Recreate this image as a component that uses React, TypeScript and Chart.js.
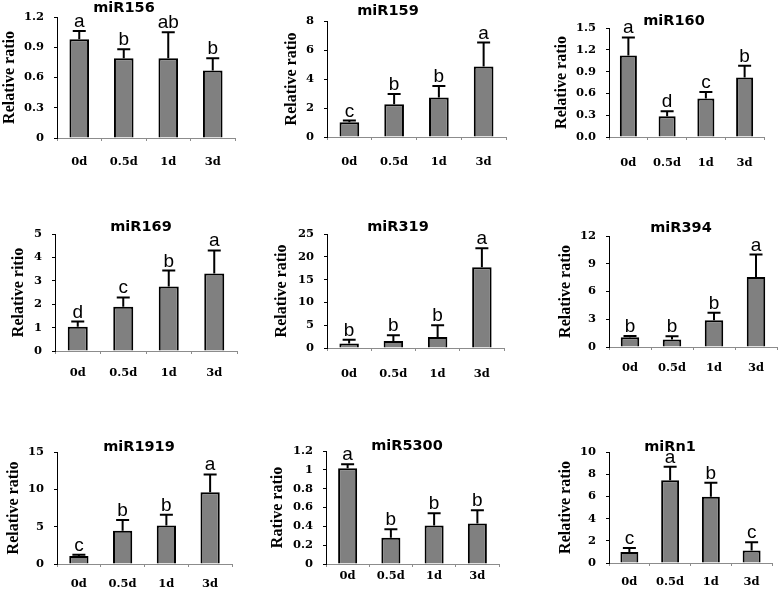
import React, { useEffect, useRef } from "react";
import { Chart, registerables } from "chart.js";

Chart.register(...registerables);

const categories = ["0d", "0.5d", "1d", "3d"];

const miR156Values = [0.98, 0.79, 0.79, 0.67];
const miR156Errors = [0.08, 0.09, 0.26, 0.12];
const miR156Letters = ["a", "b", "ab", "b"];
const miR156Ticks = ["0", "0.3", "0.6", "0.9", "1.2"];

const miR159Values = [1.02, 2.26, 2.72, 4.87];
const miR159Errors = [0.11, 0.71, 0.79, 1.64];
const miR159Letters = ["c", "b", "b", "a"];
const miR159Ticks = ["0", "2", "4", "6", "8"];

const miR160Values = [1.12, 0.285, 0.53, 0.82];
const miR160Errors = [0.25, 0.07, 0.09, 0.16];
const miR160Letters = ["a", "d", "c", "b"];
const miR160Ticks = ["0.0", "0.3", "0.6", "0.9", "1.2", "1.5"];

const miR169Values = [1.04, 1.89, 2.76, 3.31];
const miR169Errors = [0.22, 0.4, 0.68, 0.99];
const miR169Letters = ["d", "c", "b", "a"];
const miR169Ticks = ["0", "1", "2", "3", "4", "5"];

const miR319Values = [0.96, 1.54, 2.43, 17.7];
const miR319Errors = [0.84, 1.26, 2.56, 4.2];
const miR319Letters = ["b", "b", "b", "a"];
const miR319Ticks = ["0", "5", "10", "15", "20", "25"];

const miR394Values = [1.05, 0.8, 2.88, 7.57];
const miR394Errors = [0.14, 0.35, 0.82, 2.43];
const miR394Letters = ["b", "b", "b", "a"];
const miR394Ticks = ["0", "3", "6", "9", "12"];

const miR1919Values = [1.07, 4.45, 5.16, 9.6];
const miR1919Errors = [0.18, 1.45, 1.44, 2.4];
const miR1919Letters = ["c", "b", "b", "a"];
const miR1919Ticks = ["0", "5", "10", "15"];

const miR5300Values = [1.016, 0.28, 0.41, 0.43];
const miR5300Errors = [0.044, 0.09, 0.13, 0.14];
const miR5300Letters = ["a", "b", "b", "b"];
const miR5300Ticks = ["0", "0.2", "0.4", "0.6", "0.8", "1", "1.2"];

const miRn1Values = [0.99, 7.46, 5.97, 1.13];
const miRn1Errors = [0.37, 1.2, 1.25, 0.75];
const miRn1Letters = ["c", "a", "b", "c"];
const miRn1Ticks = ["0", "2", "4", "6", "8", "10"];

const panels = [
  { title: "miR156", yTitle: "Relative ratio", values: miR156Values, errors: miR156Errors, letters: miR156Letters, ticks: miR156Ticks, max: 1.2, step: 0.3 },
  { title: "miR159", yTitle: "Relative ratio", values: miR159Values, errors: miR159Errors, letters: miR159Letters, ticks: miR159Ticks, max: 8, step: 2 },
  { title: "miR160", yTitle: "Relative ratio", values: miR160Values, errors: miR160Errors, letters: miR160Letters, ticks: miR160Ticks, max: 1.5, step: 0.3 },
  { title: "miR169", yTitle: "Relative ritio", values: miR169Values, errors: miR169Errors, letters: miR169Letters, ticks: miR169Ticks, max: 5, step: 1 },
  { title: "miR319", yTitle: "Relative ratio", values: miR319Values, errors: miR319Errors, letters: miR319Letters, ticks: miR319Ticks, max: 25, step: 5 },
  { title: "miR394", yTitle: "Relative ratio", values: miR394Values, errors: miR394Errors, letters: miR394Letters, ticks: miR394Ticks, max: 12, step: 3 },
  { title: "miR1919", yTitle: "Relative ratio", values: miR1919Values, errors: miR1919Errors, letters: miR1919Letters, ticks: miR1919Ticks, max: 15, step: 5 },
  { title: "miR5300", yTitle: "Rative ratio", values: miR5300Values, errors: miR5300Errors, letters: miR5300Letters, ticks: miR5300Ticks, max: 1.2, step: 0.2 },
  { title: "miRn1", yTitle: "Relative ratio", values: miRn1Values, errors: miRn1Errors, letters: miRn1Letters, ticks: miRn1Ticks, max: 10, step: 2 },
];

// layout (page pixel coordinates)
const layouts = [
  { cx: 0, cy: 0, w: 260, h: 180, L: 57, R: 235, T: 17, B: 138, yTitleX: 9, titleX: 124, titleY: 8, xGap: 24 },
  { cx: 260, cy: 0, w: 260, h: 180, L: 327, R: 506, T: 21, B: 137, yTitleX: 292, titleX: 388, titleY: 11, xGap: 25 },
  { cx: 520, cy: 0, w: 259, h: 180, L: 609, R: 764, T: 28, B: 137, yTitleX: 562, titleX: 674, titleY: 21, xGap: 26 },
  { cx: 0, cy: 180, w: 260, h: 212, L: 55, R: 237, T: 234, B: 351, yTitleX: 19, titleX: 141, titleY: 227, xGap: 22 },
  { cx: 260, cy: 180, w: 260, h: 212, L: 327, R: 504, T: 234, B: 348, yTitleX: 282, titleX: 398, titleY: 227, xGap: 26 },
  { cx: 520, cy: 180, w: 259, h: 212, L: 609, R: 777, T: 236, B: 347, yTitleX: 566, titleX: 681, titleY: 228, xGap: 21 },
  { cx: 0, cy: 392, w: 260, h: 197, L: 57, R: 232, T: 452, B: 564, yTitleX: 14, titleX: 139, titleY: 447, xGap: 20 },
  { cx: 260, cy: 392, w: 260, h: 197, L: 326, R: 499, T: 451, B: 564, yTitleX: 278, titleX: 407, titleY: 446, xGap: 12 },
  { cx: 520, cy: 392, w: 259, h: 197, L: 609, R: 772, T: 452, B: 563, yTitleX: 566, titleX: 670, titleY: 447, xGap: 19 },
];

const TICK_FONT = { family: "'DejaVu Serif'", weight: "bold" as const, size: 11.5 };
const YTITLE_SIZE = 16;

function Panel({ p, lay }: { p: any; lay: any }) {
  const ref = useRef<HTMLCanvasElement>(null);
  useEffect(() => {
    if (!ref.current) return;
    const half = (YTITLE_SIZE * 1.2) / 2;
    const padLeft = Math.max(0, lay.yTitleX - half - lay.cx);
    const yW = lay.L - lay.cx - padLeft;
    const padTop = lay.T - lay.cy;
    const padRight = lay.cx + lay.w - lay.R;
    const xH = lay.cy + lay.h - lay.B;
    const tickLabelLH = TICK_FONT.size * 1.2;
    const xPad = Math.max(0, lay.xGap - 3 - tickLabelLH / 2);

    const overlay = {
      id: "overlay",
      afterDatasetsDraw(chart: any) {
        const ctx = chart.ctx;
        const meta = chart.getDatasetMeta(0);
        const yScale = chart.scales.y;
        ctx.save();
        ctx.strokeStyle = "#000";
        ctx.lineWidth = 2;
        ctx.fillStyle = "#000";
        meta.data.forEach((bar: any, i: number) => {
          const top = yScale.getPixelForValue(p.values[i] + p.errors[i]);
          ctx.beginPath();
          ctx.moveTo(bar.x, bar.y);
          ctx.lineTo(bar.x, top);
          ctx.moveTo(bar.x - 6.5, top);
          ctx.lineTo(bar.x + 6.5, top);
          ctx.stroke();
          ctx.font = "19px 'Liberation Sans'";
          ctx.textAlign = "center";
          ctx.textBaseline = "alphabetic";
          ctx.fillText(p.letters[i], bar.x, top - 4);
        });
        ctx.font = "bold 14.5px 'DejaVu Sans'";
        ctx.textAlign = "center";
        ctx.textBaseline = "middle";
        ctx.fillText(p.title, lay.titleX - lay.cx, lay.titleY - lay.cy);
        ctx.restore();
      },
    };

    const chart = new Chart(ref.current, {
      type: "bar",
      data: {
        labels: categories,
        datasets: [
          {
            data: p.values,
            backgroundColor: "#808080",
            borderColor: "#000",
            borderWidth: 2,
            barPercentage: 0.44,
            categoryPercentage: 1,
          },
        ],
      },
      options: {
        responsive: false,
        animation: false,
        events: [],
        layout: { padding: { left: padLeft, top: padTop, right: padRight, bottom: 0 } },
        plugins: { legend: { display: false }, tooltip: { enabled: false }, title: { display: false } },
        scales: {
          x: {
            grid: { offset: true, drawOnChartArea: false, drawTicks: true, tickLength: 3, color: "#8c8c8c" },
            border: { color: "#8c8c8c", width: 1 },
            ticks: { font: TICK_FONT, color: "#000", padding: xPad, maxRotation: 0, autoSkip: false },
            afterFit: (s: any) => {
              s.height = xH;
            },
          },
          y: {
            min: 0,
            max: p.max,
            grid: { drawOnChartArea: false, drawTicks: true, tickLength: 3, color: "#000" },
            border: { color: "#000", width: 1 },
            ticks: {
              stepSize: p.step,
              font: TICK_FONT,
              color: "#000",
              padding: 10,
              callback: (_v: any, i: number) => p.ticks[i],
            },
            title: {
              display: true,
              text: p.yTitle,
              color: "#000",
              padding: 0,
              font: { family: "'Liberation Serif'", weight: "bold", size: YTITLE_SIZE },
            },
            afterFit: (s: any) => {
              s.width = yW;
            },
          },
        },
      },
      plugins: [overlay],
    });
    return () => chart.destroy();
  }, [p, lay]);
  return (
    <canvas
      ref={ref}
      width={lay.w}
      height={lay.h}
      style={{ position: "absolute", left: lay.cx, top: lay.cy, width: lay.w, height: lay.h }}
    />
  );
}

export default function App() {
  return (
    <div style={{ position: "absolute", left: 0, top: 0, width: 779, height: 589, background: "#fff" }}>
      {panels.map((p, i) => (
        <Panel key={p.title} p={p} lay={layouts[i]} />
      ))}
    </div>
  );
}
